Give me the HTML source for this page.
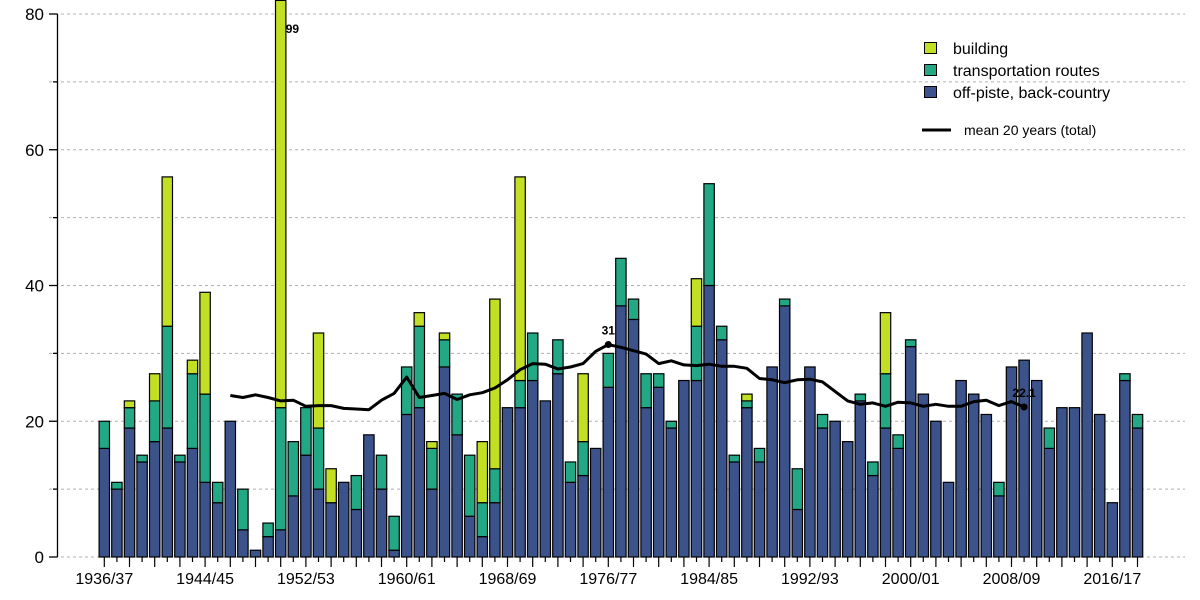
<!DOCTYPE html>
<html><head><meta charset="utf-8"><style>
html,body{margin:0;padding:0;background:#fff;}
svg{display:block;font-family:"Liberation Sans",Arial,sans-serif;}
</style></head><body>
<svg id="chart" width="1200" height="600" viewBox="0 0 1200 600" xmlns="http://www.w3.org/2000/svg">
<g id="grid"></g>
<g id="bars"></g>
<g id="line"></g>
<g id="axes"></g>
<g id="legend">
  <rect x="924.5" y="42.5" width="12" height="11" fill="#c2df23" stroke="#000" stroke-width="1"/>
  <text x="953" y="54" font-size="16">building</text>
  <rect x="924.5" y="64.5" width="12" height="11" fill="#22a884" stroke="#000" stroke-width="1"/>
  <text x="953" y="76" font-size="16">transportation routes</text>
  <rect x="924.5" y="86.5" width="12" height="11" fill="#3b528b" stroke="#000" stroke-width="1"/>
  <text x="953" y="98" font-size="16">off-piste, back-country</text>
  <line x1="922" y1="130" x2="951" y2="130" stroke="#000" stroke-width="3"/>
  <text x="964" y="135" font-size="14">mean 20 years (total)</text>
</g>
</svg>
<script>
const offPiste = [16,10,19,14,17,19,14,16,11,8,20,4,1,3,4,9,15,10,8,11,7,18,10,1,21,22,10,28,18,6,3,8,22,22,26,23,27,11,12,16,25,37,35,22,25,19,26,26,40,32,14,22,14,28,37,7,28,19,20,17,23,12,19,16,31,24,20,11,26,24,21,9,28,29,26,16,22,22,33,21,8,26,19];
const transport = [4,1,3,1,6,15,1,11,13,3,0,6,0,2,18,8,7,9,0,0,5,0,5,5,7,12,6,4,6,9,5,5,0,4,7,0,5,3,5,0,5,7,3,5,2,1,0,8,15,2,1,1,2,0,1,6,0,2,0,0,1,2,8,2,1,0,0,0,0,0,0,2,0,0,0,3,0,0,0,0,0,1,2];
const building = [0,0,1,0,4,22,0,2,15,0,0,0,0,0,77,0,0,14,5,0,0,0,0,0,0,2,1,1,0,0,9,25,0,30,0,0,0,0,10,0,0,0,0,0,0,0,0,7,0,0,0,1,0,0,0,0,0,0,0,0,0,0,9,0,0,0,0,0,0,0,0,0,0,0,0,0,0,0,0,0,0,0,0];
const meanStart = 10;
const meanValues = [23.8,23.5,23.9,23.5,23.0,23.1,22.2,22.3,22.3,21.9,21.8,21.7,23.1,24.1,26.5,23.5,23.8,24.1,23.2,23.9,24.2,24.9,26.1,27.6,28.5,28.4,27.7,28.0,28.5,30.3,31.3,30.9,30.4,29.9,28.5,28.9,28.3,28.2,28.4,28.1,28.1,27.8,26.3,26.1,25.7,26.1,26.2,25.8,24.4,23.0,22.5,22.7,22.2,22.8,22.7,22.2,22.5,22.2,22.2,22.9,23.1,22.3,22.9,22.1];
const yTicks = [0,20,40,60,80];
const firstSeason = 1936;
const annotations = [{i:14,v:99,label:"99"},{i:40,v:31.3,label:"31"},{i:73,v:22.1,label:"22.1"}];

const NS="http://www.w3.org/2000/svg";
const X0=104.3, STEP=12.6, BW=10.4, Y0=557, YMAX=80, YTOP=14;
function xs(i){return X0+i*STEP;}
function ys(v){return Y0-(v/YMAX)*(Y0-YTOP);}
function mk(tag,attrs,parent){const e=document.createElementNS(NS,tag);for(const k in attrs)e.setAttribute(k,attrs[k]);parent.appendChild(e);return e;}

const grid=document.getElementById('grid');
for(let v=0;v<=80;v+=10){
  const g=mk('line',{x1:49,x2:1185,y1:ys(v),y2:ys(v),stroke:'#b0b0b0','stroke-width':1,'stroke-dasharray':'3,3'},grid);
  
  
}

const bars=document.getElementById('bars');
for(let i=0;i<offPiste.length;i++){
  const segs=[[offPiste[i],'#3b528b','off-piste'],[transport[i],'#22a884','transport'],[building[i],'#c2df23','building']];
  let base=0;
  for(const s of segs){
    if(s[0]<=0)continue;
    const top=Math.min(base+s[0],YMAX+2);
    const r=mk('rect',{x:xs(i)-BW/2,y:ys(top),width:BW,height:ys(base)-ys(top),fill:s[1],stroke:'#000','stroke-width':1.2},bars);
    
    
    base+=s[0];
  }
}

const lineG=document.getElementById('line');
let d='';
meanValues.forEach((v,k)=>{d+=(k?'L':'M')+xs(meanStart+k).toFixed(1)+','+ys(v).toFixed(1);});
const p=mk('path',{d:d,fill:'none',stroke:'#000','stroke-width':3,'stroke-linejoin':'round'},lineG);


annotations.forEach(a=>{
  if(a.i!==14){
    const c=mk('circle',{cx:xs(a.i),cy:ys(a.v),r:3.5,fill:'#000'},lineG);
    
    
  }
  const yy=a.i===14?33:ys(a.v)-10;
  const xx=a.i===14?xs(a.i)+5:xs(a.i);
  const t=mk('text',{x:xx,y:yy,'font-size':12,'font-weight':'bold','text-anchor':a.i===14?'start':'middle',fill:'#000'},lineG);
  t.textContent=a.label;
  
  
});

const axes=document.getElementById('axes');
const ya=mk('line',{x1:57.5,x2:57.5,y1:ys(80),y2:Y0,stroke:'#000','stroke-width':1.3},axes);


for(let v=0;v<=80;v+=10){
  const major=yTicks.includes(v);
  const tk=mk('line',{x1:major?49:53,x2:57.5,y1:ys(v),y2:ys(v),stroke:'#000','stroke-width':1.3},axes);
  
  
}
yTicks.forEach(v=>{
  const t=mk('text',{x:44,y:ys(v)+6,'font-size':17,'text-anchor':'end'},axes);
  t.textContent=String(v);
  
  
});
for(let i=0;i<offPiste.length;i++){
  const tk=mk('line',{x1:xs(i),x2:xs(i),y1:Y0,y2:i%2===0?Y0+10:Y0+5,stroke:'#000','stroke-width':1.2},axes);
  
  
  if(i%8===0){
    const y=firstSeason+i;
    const t=mk('text',{x:xs(i),y:584,'font-size':16,'text-anchor':'middle'},axes);
    t.textContent=y+'/'+String((y+1)%100).padStart(2,'0');
    
    
  }
}
</script>
</body></html>
